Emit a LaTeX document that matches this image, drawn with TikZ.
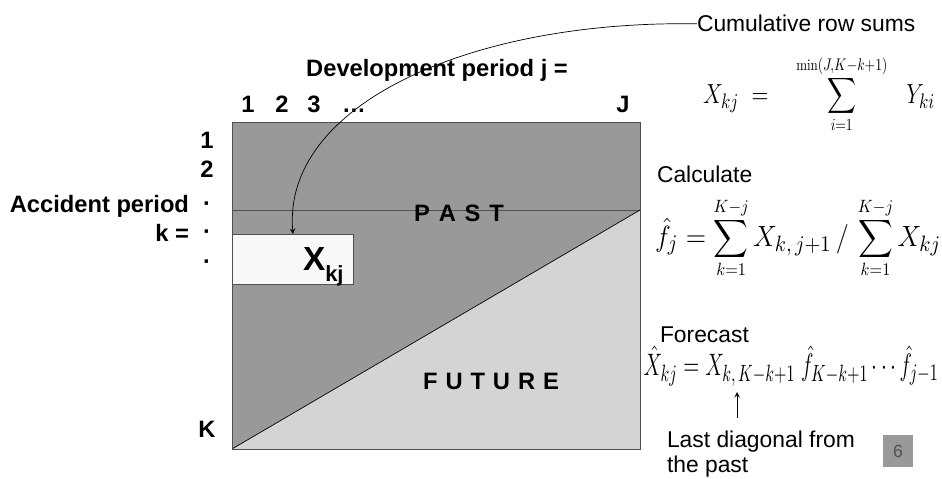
\documentclass[tikz,border=0pt]{standalone}
\usepackage{fontspec}
\setsansfont{Liberation Sans}
\definecolor{pastgray}{HTML}{999999}
\definecolor{futuregray}{HTML}{D4D4D4}
\definecolor{cellwhite}{HTML}{F8F8F8}
\definecolor{edgegray}{HTML}{505050}
\newcommand\limtxt[1]{\hbox{\scalebox{0.8}{$\scriptstyle #1$}}}
\newcommand\sigmabig{\mathop{\vcenter{\hbox{\scalebox{1.3}{$\displaystyle\sum$}}}}\limits}
\begin{document}
\begin{tikzpicture}[%
    x=0.02cm,y=-0.02cm,
    every node/.style={%
      anchor=base,inner sep=0pt,outer sep=0pt},
    lbl/.style={font=\sffamily\bfseries\fontsize{13.5}{15}\selectfont},
    txt/.style={font=\sffamily\fontsize{13}{14.2}\selectfont},
    eqn/.style={anchor=center,font=\fontsize{15}{17}\selectfont}
    ]
    \useasboundingbox (0,0) rectangle (942,479);
    \fill[pastgray](232,122)rectangle(640,449);
    \fill[futuregray](232,449)--(640,210)--(640,449)--cycle;
    \draw[edgegray](232,210)--(640,210);
    \draw[black](232,449)--(640,210);
    \draw[edgegray](232,122)rectangle(640,449);
    \node[draw=edgegray,fill=cellwhite,anchor=north west,
      minimum width=2.42cm,minimum height=1cm] at(232,234)(cell){};
    \node[lbl,anchor=base west,font=\sffamily\bfseries\fontsize{19}{20}\selectfont]
    at(303,271)(xkj){X\raisebox{-5.7pt}{\fontsize{12.5}{13}\selectfont kj}};
    \node[lbl] at(459,222)(past){P\kern5pt A\kern5pt S\kern5pt T};
    \node[lbl] at(491,389)(future){F\kern4.5pt U\kern4.5pt T\kern4.5pt U\kern4.5pt R\kern4.5pt E};
    \node[lbl] at(437,77)(devel){Development period j =};
    \node[lbl] at(248,113)(c1){1};
    \node[lbl] at(282,113)(c2){2};
    \node[lbl] at(314,113)(c3){3};
    \node[lbl] at(354,113)(cdots){\dots};
    \node[lbl] at(623,113)(cJ){J};
    \node[lbl] at(207,149)(r1){1};
    \node[lbl] at(207,178)(r2){2};
    \node[lbl] at(207,212)(rd1){·};
    \node[lbl] at(207,240)(rd2){·};
    \node[lbl] at(207,270)(rd3){·};
    \node[lbl] at(207,437)(rK){K};
    \node[lbl,anchor=base east] at(189,213)(accid){Accident period};
    \node[lbl,anchor=base east] at(189,242)(keq){k =};
    \node[txt,anchor=base west] at(697,32)(cumul){Cumulative row sums};
    \draw[-stealth](cumul.west)..controls(470,20)and(282,105)..(cell.north-|293,0);
    \node[eqn] at(819,94)(eqsum)
    {\resizebox*{4.64cm}{1.54cm}{$\displaystyle X_{kj} \;=\; \qquad
      \sigmabig_{\limtxt{i=1}}^{\makebox[0pt]{\limtxt{\min(J,K-k+1)}}} \qquad Y_{ki}$}};
    \node[txt,anchor=base west] at(657,183)(calc){Calculate};
    \node[eqn] at(798,238)(eqf)
    {\resizebox*{5.72cm}{1.6cm}{$\displaystyle \hat{f}_j = \sigmabig_{\limtxt{k=1}}^{\limtxt{K-j}} X_{k,\,j+1} \,/\, \sigmabig_{\limtxt{k=1}}^{\limtxt{K-j}} X_{kj}$}};
    \node[txt,anchor=base west] at(660,342)(fcast){Forecast};
    \node[eqn] at(791,366)(eqx)
    {\resizebox*{5.9cm}{0.8cm}{$\hat{X}_{kj} = X_{k,\,K-k+1}\;\hat{f}_{K-k+1}\cdots\hat{f}_{j-1}$}};
    \node[txt,anchor=north west,align=left] at(667,431)(lastd){Last diagonal from\\the past};
    \coordinate (lastfoot) at(737,418);
    \coordinate (lasttip) at(737,392);
    \draw[-stealth](lastfoot)--(lasttip);
    \node[fill=pastgray,anchor=center,minimum width=0.6cm,minimum height=0.64cm,
      text=edgegray,font=\sffamily\fontsize{10}{10}\selectfont] at(898,451)(pagenum){6};
  \end{tikzpicture}
\end{document}
